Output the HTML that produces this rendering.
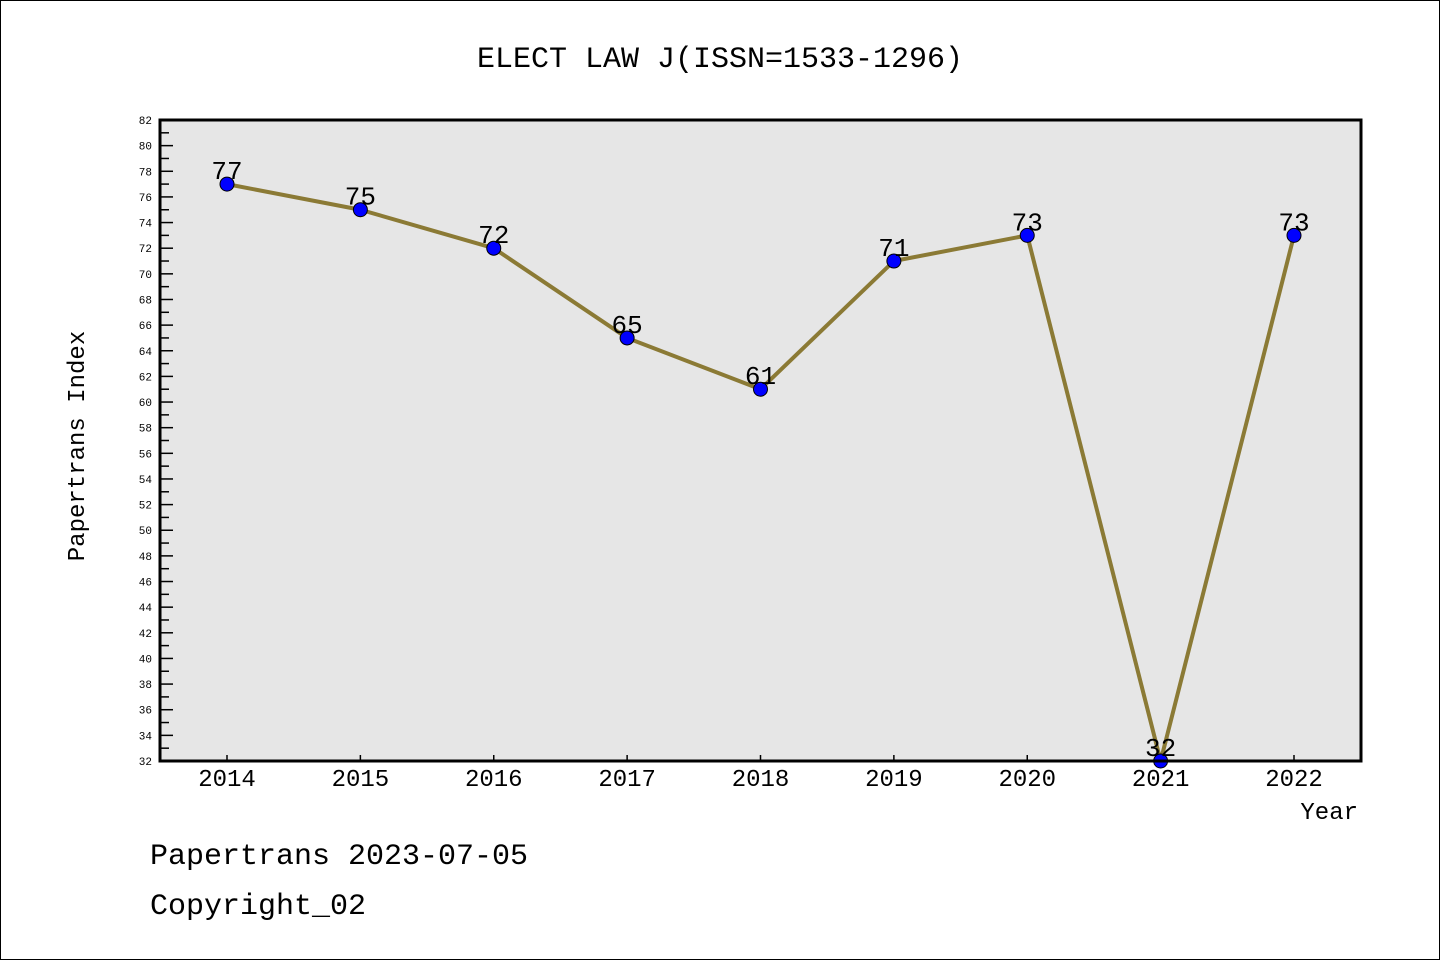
<!DOCTYPE html>
<html><head><meta charset="utf-8"><style>
html,body{margin:0;padding:0;background:#fff}
svg{display:block}
text{font-family:"Liberation Mono","DejaVu Sans Mono",monospace}
</style></head><body>
<svg id="chart" width="1440" height="960" viewBox="0 0 1440 960" xmlns="http://www.w3.org/2000/svg">
<rect x="0.5" y="0.5" width="1439" height="959" fill="#fff" stroke="#000" stroke-width="1"/>
<text x="720" y="67" text-anchor="middle" font-size="30">ELECT LAW J(ISSN=1533-1296)</text>
<rect x="160" y="120" width="1201" height="641" fill="#e6e6e6"/>
<g id="axes"></g>
<g id="series"></g>
<rect x="160" y="120" width="1201" height="641" fill="none" stroke="#000" stroke-width="3"/>
<text transform="translate(84,446) rotate(-90)" text-anchor="middle" font-size="24">Papertrans Index</text>
<text x="1358" y="819" text-anchor="end" font-size="24">Year</text>
<text x="150" y="864" font-size="30">Papertrans 2023-07-05</text>
<text x="150" y="914" font-size="30">Copyright_02</text>
</svg>
<script>
const years=["2014","2015","2016","2017","2018","2019","2020","2021","2022"];
const values=[77,75,72,65,61,71,73,32,73];
const yMin=32,yMax=82;
const NS="http://www.w3.org/2000/svg";
const L=160,R=1361,T=120,B=761;
function xs(i){return 227+i*(1294-227)/(years.length-1);}
function ys(v){return B-(v-yMin)*(B-T)/(yMax-yMin);}
function mk(tag,attrs,parent){const e=document.createElementNS(NS,tag);for(const k in attrs)e.setAttribute(k,attrs[k]);parent.appendChild(e);return e;}
const axes=document.getElementById('axes'),ser=document.getElementById('series');
for(let v=yMin;v<=yMax;v++){
  const y=ys(v),major=(v%2===0);
  const t=mk('line',{x1:L,x2:L+(major?13:9),y1:y,y2:y,stroke:'#000','stroke-width':1.5},axes);
  
  
  if(major){const tx=mk('text',{x:152,y:y+4,'text-anchor':'end','font-size':11,'font-family':'Liberation Sans, sans-serif'},axes);tx.textContent=v;
  
  }
}
years.forEach((yr,i)=>{
  const x=xs(i);
  const t=mk('line',{x1:x,x2:x,y1:B,y2:B-6,stroke:'#000','stroke-width':1.5},axes);
  
  
  const tx=mk('text',{x:x,y:786,'text-anchor':'middle','font-size':24,'font-family':'Liberation Sans, sans-serif'},axes);tx.textContent=yr;
  
  
});
const pts=values.map((v,i)=>xs(i)+','+ys(v)).join(' ');
const pl=mk('polyline',{points:pts,fill:'none',stroke:'#8b7a35','stroke-width':4,'stroke-linejoin':'round'},ser);


values.forEach((v,i)=>{
  const c=mk('circle',{cx:xs(i),cy:ys(v),r:7,fill:'#0000ff',stroke:'#000','stroke-width':1},ser);
  
  
  const t=mk('text',{x:xs(i),y:ys(v)-5,'text-anchor':'middle','font-size':26,'font-family':'Liberation Sans, sans-serif'},ser);t.textContent=v;
  
  
});
</script>
</body></html>
